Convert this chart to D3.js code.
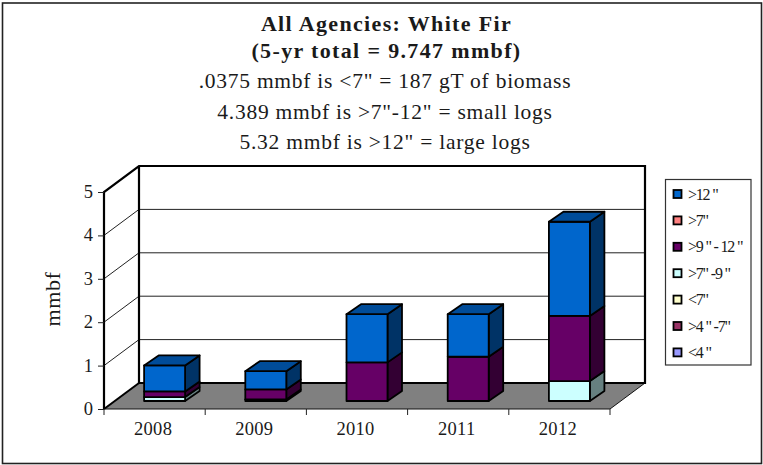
<!DOCTYPE html>
<html><head><meta charset="utf-8">
<script src="https://cdnjs.cloudflare.com/ajax/libs/d3/7.8.5/d3.min.js"></script>
<style>html,body{margin:0;padding:0;background:#fff}svg{display:block}text{font-family:"Liberation Serif",serif;fill:#1a1a1a}</style>
</head><body><div id="c"></div>
<script>
const categories=["2008","2009","2010","2011","2012"];
const yTicks=[0,1,2,3,4,5];
const titleLines=["All Agencies: White Fir","(5-yr total = 9.747 mmbf)"];
const subLines=['.0375 mmbf is <7" = 187 gT of biomass','4.389 mmbf is >7"-12" = small logs','5.32 mmbf is >12" = large logs'];
const yLabel="mmbf";
const seriesNames=['<4 "','>4 " -7"','<7"','>7" -9 "','>9 " - 12 "','>7"','>12 "'];
const seriesColors=["#9999ff","#993366","#ffffcc","#ccffff","#660066","#ff8080","#0066cc"];
const seriesSides=["#4c4c80","#4c1933","#808066","#668080","#330033","#804040","#003366"];
const seriesTops=["#7373bf","#73264d","#bfbf99","#99bfbf","#4c004c","#bf6060","#004c99"];
const v_lt4=[0,0,0,0,0];
const v_4to7=[0,0,0,0,0];
const v_lt7=[0,0.0375,0,0,0];
const v_7to9=[0.09,0,0,0,0.46];
const v_9to12=[0.13,0.23,0.89,1.02,1.5];
const v_gt7=[0,0,0,0,0];
const v_gt12=[0.6,0.42,1.11,0.98,2.17];
const seriesValues=[v_lt4,v_4to7,v_lt7,v_7to9,v_9to12,v_gt7,v_gt12];

const W=763,H=465;
const svg=d3.select("#c").append("svg").attr("width",W).attr("height",H);
svg.append("rect").attr("x",2.5).attr("y",3).attr("width",759).attr("height",460.5).attr("fill","#fff").attr("stroke","#222").attr("stroke-width",1.6);

[[titleLines[0],31],[titleLines[1],58]].forEach(([t,y])=>svg.append("text").attr("x",386.5).attr("y",y).attr("text-anchor","middle").attr("font-size",22).attr("font-weight","bold").attr("letter-spacing",1.35).text(t));
[[subLines[0],88],[subLines[1],119],[subLines[2],149]].forEach(([t,y])=>svg.append("text").attr("x",385).attr("y",y).attr("text-anchor","middle").attr("font-size",21.5).attr("letter-spacing",0.75).text(t));

const x0=104,x1=610,yB=409,yT=192,dx=35,dy=26;
const y=d3.scaleLinear().domain([0,5]).range([yB,yT]);
const xB=d3.scaleBand().domain(categories).range([x0,x1]).paddingInner(0.595).paddingOuter(0.2975);
const xEdge=d3.scaleLinear().domain([0,5]).range([x0,x1]);
const line=d3.line();
const poly=(g,p,fill,stroke,w)=>g.append("path").attr("d",line(p)+"Z").attr("fill",fill).attr("stroke",stroke).attr("stroke-width",w).attr("stroke-linejoin","round");

const g=svg.append("g");
poly(g,[[x0+dx,y(5)-dy],[x1+dx,y(5)-dy],[x1+dx,y(0)-dy],[x0+dx,y(0)-dy]],"#fff","none",0);
yTicks.slice(1,5).forEach(t=>{
  g.append("path").attr("d",line([[x0,y(t)],[x0+dx,y(t)-dy],[x1+dx,y(t)-dy]])).attr("fill","none").attr("stroke","#222").attr("stroke-width",1);
});
poly(g,[[x0,y(0)],[x0+dx,y(0)-dy],[x1+dx,y(0)-dy],[x1,y(0)]],"#808080","none",0);
g.append("path").attr("d",line([[x0,y(0)],[x1,y(0)],[x1+dx,y(0)-dy]])).attr("fill","none").attr("stroke","#111").attr("stroke-width",1);
g.append("path").attr("d",line([[x0,y(0)],[x0,y(5)],[x0+dx,y(5)-dy],[x1+dx,y(5)-dy],[x1+dx,y(0)-dy],[x0+dx,y(0)-dy],[x0+dx,y(5)-dy]])).attr("fill","none").attr("stroke","#000").attr("stroke-width",2.2);
g.append("path").attr("d",line([[x0,y(0)],[x0+dx,y(0)-dy]])).attr("fill","none").attr("stroke","#000").attr("stroke-width",2);

const bx=10,by=8,bdx=14.5,bdy=10;
const bars=svg.append("g");
categories.forEach((c,i)=>{
  let acc=0;
  const L=xB(c)+bx,R=L+xB.bandwidth();
  const b=bars.append("g");
  const total=d3.sum(seriesValues,a=>a[i]);
  seriesValues.forEach((vals,s)=>{
    const v=vals[i]; if(!v) return;
    const yb=y(acc)-by,yt=y(acc+v)-by; acc+=v;
    poly(b,[[R,yb],[R+bdx,yb-bdy],[R+bdx,yt-bdy],[R,yt]],seriesSides[s],"#000",1.8);
    poly(b,[[L,yb],[R,yb],[R,yt],[L,yt]],seriesColors[s],"#000",1.8);
    if(Math.abs(acc-total)<1e-9) poly(b,[[L,yt],[L+bdx,yt-bdy],[R+bdx,yt-bdy],[R,yt]],seriesTops[s],"#000",1.8);
  });
});

const yAxis=d3.axisLeft(y).tickValues(yTicks).tickSize(6).tickPadding(5).tickFormat(d3.format("d"));
const ax=svg.append("g").attr("transform",`translate(${x0},0)`).call(yAxis);
ax.select(".domain").remove();
ax.selectAll("line").attr("stroke","#222");
ax.selectAll("text").attr("font-size",18.5).attr("font-family",'"Liberation Serif",serif').attr("fill","#1a1a1a").attr("dy","0.3em");
const xLab=d3.scaleBand().domain(categories).range([x0,x1]);
const xa=svg.append("g").attr("transform",`translate(0,${yB})`).call(d3.axisBottom(xLab).tickSize(0).tickPadding(13));
xa.select(".domain").remove();
xa.selectAll("text").attr("font-size",18.5).attr("font-family",'"Liberation Serif",serif').attr("fill","#1a1a1a").attr("dx",-1.5).attr("letter-spacing",0.3);
svg.append("g").selectAll("line").data(d3.range(6)).join("line")
  .attr("x1",d=>xEdge(d)).attr("x2",d=>xEdge(d)).attr("y1",yB).attr("y2",yB+6).attr("stroke","#222");
svg.append("text").attr("transform","translate(60,299) rotate(-90)").attr("text-anchor","middle").attr("font-size",22).attr("letter-spacing",0.6).text(yLabel);

svg.append("rect").attr("x",665.5).attr("y",179.5).attr("width",85.5).attr("height",185.5).attr("fill","#fff").attr("stroke","#333").attr("stroke-width",1.2);
const order=d3.range(seriesNames.length).reverse();
order.forEach((s,i)=>{
  const cy=194+i*26.4;
  svg.append("rect").attr("x",673.5).attr("y",cy-4).attr("width",8).attr("height",8).attr("fill",seriesColors[s]).attr("stroke","#000").attr("stroke-width",1.8);
  svg.append("text").attr("x",688).attr("y",cy+5.5).attr("font-size",16).attr("letter-spacing",-1.2).text(seriesNames[s]);
});
</script></body></html>
